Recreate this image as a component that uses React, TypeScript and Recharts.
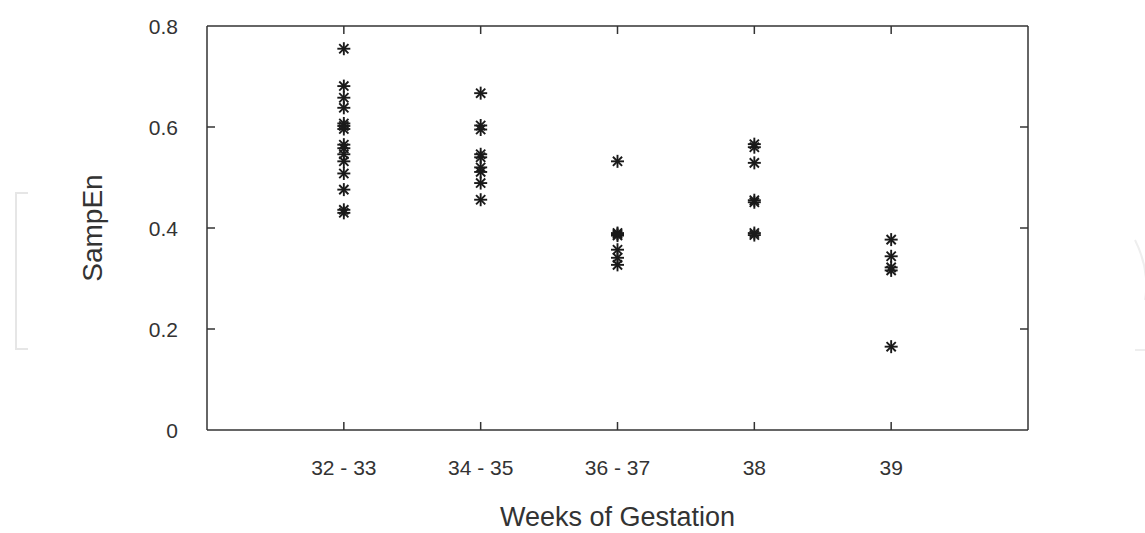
import React from "react";
import {
  ScatterChart,
  Scatter,
  XAxis,
  YAxis,
  ReferenceLine,
} from "recharts";

// week groups on the x axis
const categories = ["32 - 33", "34 - 35", "36 - 37", "38", "39"];

// SampEn values, one list per group
const week32to33 = [
  0.755, 0.681, 0.658, 0.638, 0.596, 0.602, 0.607, 0.558, 0.565, 0.546, 0.532,
  0.508, 0.476, 0.43, 0.436,
];
const week34to35 = [0.667, 0.595, 0.603, 0.546, 0.54, 0.511, 0.52, 0.489, 0.456];
const week36to37 = [0.532, 0.385, 0.39, 0.388, 0.357, 0.341, 0.327];
const week38 = [0.56, 0.566, 0.529, 0.451, 0.455, 0.386, 0.39];
const week39 = [0.377, 0.344, 0.316, 0.322, 0.165];

const groups = [week32to33, week34to35, week36to37, week38, week39];

const yTicks = [0, 0.2, 0.4, 0.6, 0.8];
const xTicks = categories.map((_, i) => i + 1);

const points = groups.flatMap((vals, i) => vals.map((v) => ({ x: i + 1, y: v })));

const WIDTH = 1145;
const HEIGHT = 533;
const MARGIN = { top: 26, right: 117, left: 0, bottom: 0 };
const Y_AXIS_W = 207;
const X_AXIS_H = 103;
const PLOT_LEFT = MARGIN.left + Y_AXIS_W;
const PLOT_RIGHT = WIDTH - MARGIN.right;
const PLOT_TOP = MARGIN.top;
const PLOT_BOTTOM = HEIGHT - MARGIN.bottom - X_AXIS_H;

const INK = "#333";
const FONT = "'Liberation Sans', Arial, sans-serif";
const TICK_LEN = 8;

// gnuplot-like asterisk marker
const Star = (props: any) => {
  const { cx, cy } = props;
  if (cx == null || cy == null) return null;
  const a = 6.5;
  const d = 4.6;
  return (
    <g stroke="#1a1a1a" strokeWidth={1.9}>
      <line x1={cx - a} y1={cy} x2={cx + a} y2={cy} />
      <line x1={cx} y1={cy - a} x2={cx} y2={cy + a} />
      <line x1={cx - d} y1={cy - d} x2={cx + d} y2={cy + d} />
      <line x1={cx - d} y1={cy + d} x2={cx + d} y2={cy - d} />
    </g>
  );
};

const YTick = (props: any) => {
  const { x, y, payload } = props;
  const v = payload.value;
  const inner = v > 0 && v < 0.8;
  return (
    <g>
      <text
        x={x}
        y={y}
        dy="0.36em"
        textAnchor="end"
        fill={INK}
        fontSize={21}
        fontFamily={FONT}
      >
        {v === 0 ? "0" : v.toFixed(1)}
      </text>
      {inner && (
        <>
          <line x1={PLOT_LEFT} y1={y} x2={PLOT_LEFT + TICK_LEN} y2={y} stroke={INK} strokeWidth={1.5} />
          <line x1={PLOT_RIGHT - TICK_LEN} y1={y} x2={PLOT_RIGHT} y2={y} stroke={INK} strokeWidth={1.5} />
        </>
      )}
    </g>
  );
};

const XTick = (props: any) => {
  const { x, y, payload } = props;
  return (
    <g>
      <text
        x={x}
        y={y}
        dy="0.72em"
        textAnchor="middle"
        fill={INK}
        fontSize={21}
        fontFamily={FONT}
      >
        {categories[payload.value - 1]}
      </text>
      <line x1={x} y1={PLOT_BOTTOM} x2={x} y2={PLOT_BOTTOM - TICK_LEN} stroke={INK} strokeWidth={1.5} />
      <line x1={x} y1={PLOT_TOP} x2={x} y2={PLOT_TOP + TICK_LEN} stroke={INK} strokeWidth={1.5} />
    </g>
  );
};

const YTitle = (props: any) => {
  const cx = 92;
  const cy = (PLOT_TOP + PLOT_BOTTOM) / 2;
  return (
    <text
      x={cx}
      y={cy}
      transform={`rotate(-90 ${cx} ${cy})`}
      textAnchor="middle"
      dy="0.36em"
      fill={INK}
      fontSize={28}
      fontFamily={FONT}
    >
      SampEn
    </text>
  );
};

const XTitle = (props: any) => (
  <text
    x={(PLOT_LEFT + PLOT_RIGHT) / 2}
    y={526}
    textAnchor="middle"
    fill={INK}
    fontSize={27}
    fontFamily={FONT}
  >
    Weeks of Gestation
  </text>
);

export default function App() {
  return (
    <div style={{ position: "absolute", left: 0, top: 0, width: WIDTH, height: HEIGHT, background: "#fff", overflow: "hidden" }}>
      <ScatterChart width={WIDTH} height={HEIGHT} margin={MARGIN}>
        <XAxis
          type="number"
          dataKey="x"
          domain={[0, 6]}
          ticks={xTicks}
          height={X_AXIS_H}
          tickLine={false}
          tickSize={0}
          tickMargin={30}
          tick={<XTick />}
          axisLine={{ stroke: INK, strokeWidth: 1.5 }}
          label={<XTitle />}
          interval={0}
        />
        <YAxis
          type="number"
          dataKey="y"
          domain={[0, 0.8]}
          ticks={yTicks}
          width={Y_AXIS_W}
          tickLine={false}
          tickSize={0}
          tickMargin={29}
          tick={<YTick />}
          axisLine={{ stroke: INK, strokeWidth: 1.5 }}
          label={<YTitle />}
          interval={0}
        />
        <ReferenceLine y={0.8} stroke={INK} strokeWidth={1.5} />
        <ReferenceLine x={6} stroke={INK} strokeWidth={1.5} />
        <Scatter data={points} shape={<Star />} isAnimationActive={false} />
      </ScatterChart>
      {/* faint page brackets at the edges */}
      <svg width={WIDTH} height={HEIGHT} style={{ position: "absolute", left: 0, top: 0, pointerEvents: "none" }}>
        <path d="M28 193 H16 V349 H28" fill="none" stroke="#e6e6e6" strokeWidth={2} />
        <path d="M1135 240 Q1150 270 1145 300" fill="none" stroke="#eeeeee" strokeWidth={2} />
        <path d="M1135 350 H1145" fill="none" stroke="#eeeeee" strokeWidth={2} />
      </svg>
    </div>
  );
}
